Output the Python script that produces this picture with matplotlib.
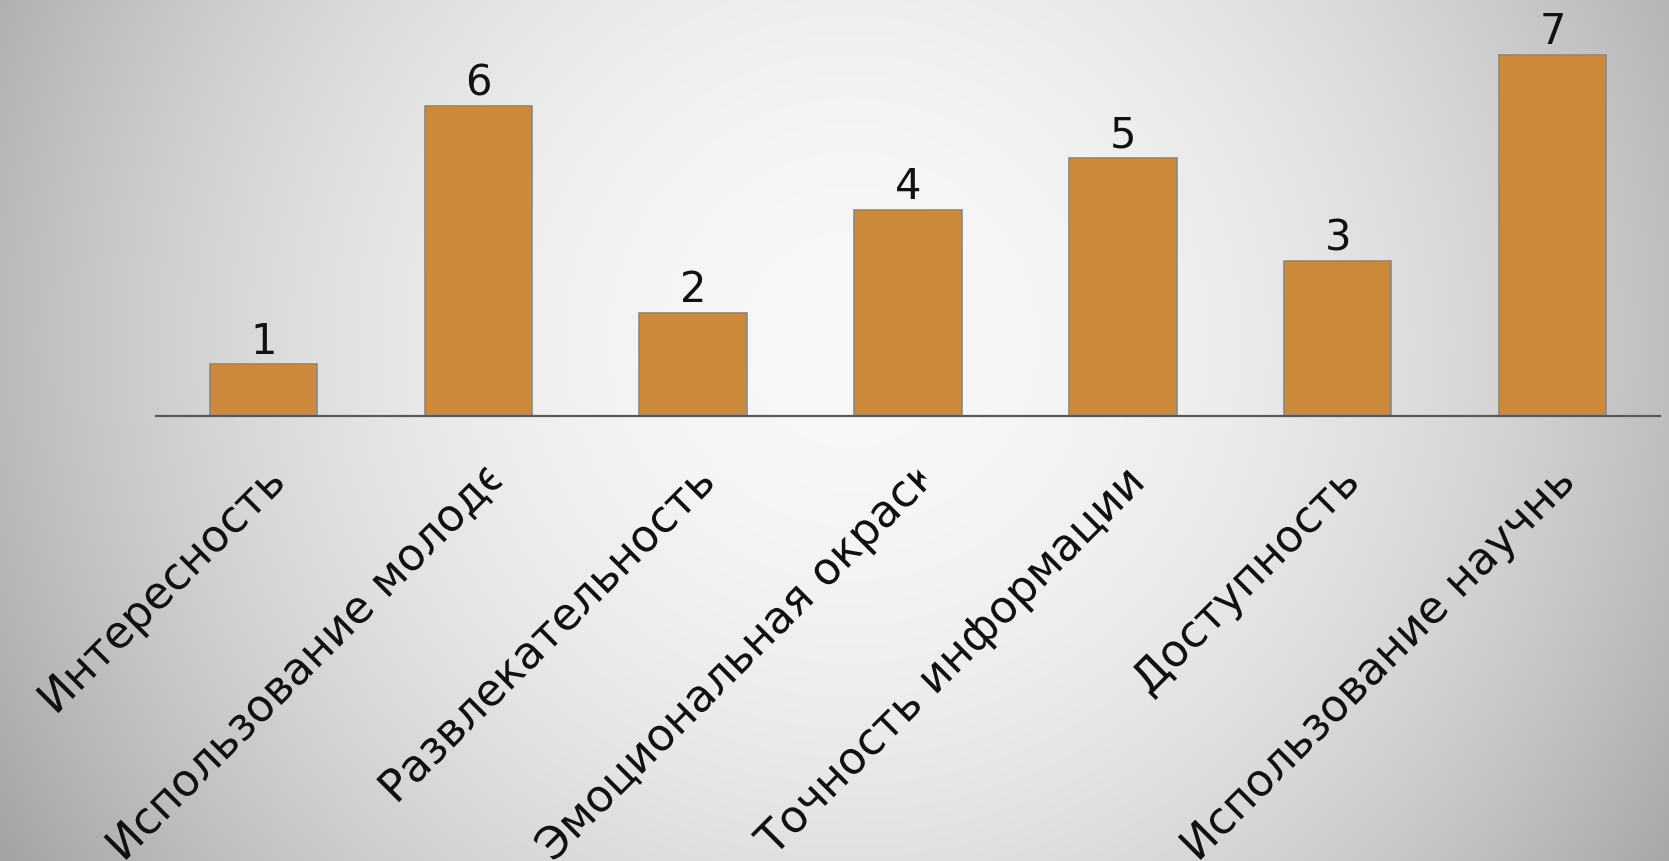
import numpy as np
import matplotlib
matplotlib.use("Agg")
import matplotlib.pyplot as plt
from matplotlib.transforms import IdentityTransform
from matplotlib.patches import Polygon
from matplotlib.font_manager import FontProperties
import matplotlib.patheffects as pe

# ---- data ----
categories = [
    "Интересность",
    "Использование молодежного сленга",
    "Развлекательность",
    "Эмоциональная окраска",
    "Точность информации",
    "Доступность",
    "Использование научных терминов",
]
values = [1, 6, 2, 4, 5, 3, 7]
value_labels = [str(v) for v in values]

# ---- figure ----
W, H, DPI = 1669, 862, 100
fig = plt.figure(figsize=(W / DPI, H / DPI), dpi=DPI)

# radial gradient background
bg = fig.add_axes([0, 0, 1, 1], zorder=0)
bg.axis("off")
yy, xx = np.mgrid[0:H, 0:W]
d2 = (xx - 850.0) ** 2 + (yy - 340.0) ** 2
g = np.clip(248 - 8.6e-5 * d2, 150, 250) / 255.0
bg.imshow(np.dstack([g, g, g]), aspect="auto", interpolation="bilinear")

# main axes
px_per_unit = 51.6
ax = fig.add_axes([156 / W, (H - 417) / H, (1660 - 156) / W, 8 * px_per_unit / H], zorder=1)
ax.patch.set_alpha(0)
x = np.arange(len(values))
bars = ax.bar(x, values, width=0.5, color="#CD893A", edgecolor="#888888", linewidth=1.2, zorder=2)
ax.set_xlim(-0.5, len(values) - 0.5)
ax.set_ylim(0, 8)
for s in ["top", "right", "left"]:
    ax.spines[s].set_visible(False)
ax.spines["bottom"].set_color("#595959")
ax.spines["bottom"].set_linewidth(1.6)
ax.spines["bottom"].set_zorder(3)
ax.set_xticks([])
ax.set_yticks([])
ax.bar_label(bars, labels=value_labels, padding=2, fontsize=30, color="#111111")

# rotated, truncated category labels
FS = 32
prop = FontProperties(family="DejaVu Sans", size=FS)
renderer = fig.canvas.get_renderer()


def tw(s):
    return renderer.get_text_width_height_descent(s, prop, ismath=False)[0]


Lmax = tw("Использование молод") + 0.6 * tw("е")
u = np.array([np.cos(np.pi / 4), np.sin(np.pi / 4)])
perp = np.array([-u[1], u[0]])
drop = 44.0
B = 5000.0
for i, lab in enumerate(categories):
    A = ax.transData.transform((x[i], 0)) + np.array([0.0, -drop])
    L = min(tw(lab), Lmax)
    S = A - L * u
    t = fig.text(S[0] / W, S[1] / H, lab, rotation=45, rotation_mode="anchor",
                 ha="left", va="top", fontproperties=prop, color="#111111", zorder=4)
    t.set_path_effects([pe.Normal()])
    poly = Polygon([A + B * perp, A - B * perp, A - B * perp - B * u, A + B * perp - B * u],
                   closed=True, transform=IdentityTransform(), facecolor="none", edgecolor="none")
    t.set_clip_path(poly)

fig.savefig("out.png", dpi=DPI)
